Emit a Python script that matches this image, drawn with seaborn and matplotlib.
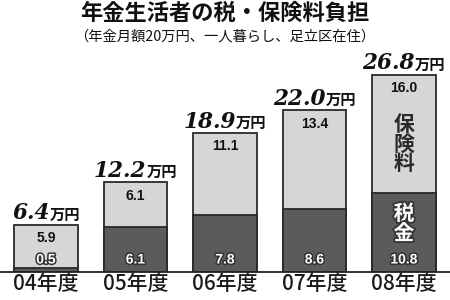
import matplotlib
matplotlib.use("Agg")
import matplotlib.pyplot as plt
import matplotlib.patheffects as pe
import seaborn as sns
import pandas as pd

categories = ["04年度", "05年度", "06年度", "07年度", "08年度"]
tax = [0.5, 6.1, 7.8, 8.6, 10.8]          # 税金
insurance = [5.9, 6.1, 11.1, 13.4, 16.0]  # 保険料
totals = [6.4, 12.2, 18.9, 22.0, 26.8]
title = "年金生活者の税・保険料負担"
subtitle = "（年金月額20万円、一人暮らし、足立区在住）"
unit = "万円"

df = pd.DataFrame({"cat": categories, "tax": tax, "ins": insurance, "total": totals})

sns.set_theme(style="white")
CJK = ["Noto Sans CJK JP", "DejaVu Sans"]
plt.rcParams["font.family"] = CJK

DARK = "#5b5b5b"
LIGHT = "#d6d6d6"
EDGE = "#2a2a2a"

fig = plt.figure(figsize=(4.5, 3.0), dpi=100)
ax = fig.add_axes([0.0, 0.0933, 1.0, 0.735])

sns.barplot(data=df, x="cat", y="total", color=LIGHT, width=0.715,
            edgecolor=EDGE, linewidth=1.3, saturation=1, ax=ax)
sns.barplot(data=df, x="cat", y="tax", color=DARK, width=0.715,
            edgecolor=EDGE, linewidth=1.3, saturation=1, ax=ax)

ax.set_xlim(-0.514, 4.514)
ax.set_ylim(0, 30)
ax.set_xlabel("")
ax.set_ylabel("")
ax.set_yticks([])
for s in ["top", "right", "left"]:
    ax.spines[s].set_visible(False)
ax.spines["bottom"].set_color("#222222")
ax.spines["bottom"].set_linewidth(1.3)
ax.tick_params(axis="x", length=0, pad=1, labelsize=15, colors="#1a1a1a")
for lab in ax.get_xticklabels():
    lab.set_family(CJK)
    lab.set_fontweight("medium")

stroke = [pe.withStroke(linewidth=2.2, foreground="#333333")]
for i in range(len(categories)):
    ax.annotate(f"{insurance[i]:.1f}", xy=(i, totals[i]), xytext=(0, -9.5),
                textcoords="offset points", ha="center", va="center",
                fontsize=10, fontweight="bold", family="Liberation Sans",
                color="#111111")
    ax.annotate(f"{tax[i]:.1f}", xy=(i, 0), xytext=(0, 9),
                textcoords="offset points", ha="center", va="center",
                fontsize=10, fontweight="bold", family="Liberation Sans",
                color="white", path_effects=stroke)

fig.canvas.draw()
r = fig.canvas.get_renderer()
for i in range(len(categories)):
    t1 = ax.annotate(f"{totals[i]:.1f}", xy=(i, totals[i]), xytext=(0, 4),
                     textcoords="offset points", ha="left", va="baseline",
                     fontsize=15.5, fontweight="bold", fontstyle="italic",
                     family="DejaVu Serif", color="#111111")
    t2 = ax.annotate(unit, xy=(i, totals[i]), xytext=(0, 4),
                     textcoords="offset points", ha="left", va="baseline",
                     fontsize=11, fontweight="bold", family=CJK, color="#111111")
    w1 = t1.get_window_extent(r).width
    w2 = t2.get_window_extent(r).width
    w = w1 + w2
    start = -w / 2 * 72 / fig.dpi
    t1.set_position((start, 4))
    t2.set_position((start + w1 * 72 / fig.dpi, 4))

ax.text(4, 17.4, "保\n険\n料", ha="center", va="center", fontsize=15,
        fontweight="bold", family=CJK, color="#2a2a2a", linespacing=0.92)
ax.text(4, 6.6, "税\n金", ha="center", va="center", fontsize=15,
        fontweight="bold", family=CJK, color="white", linespacing=0.92,
        path_effects=[pe.withStroke(linewidth=2.5, foreground="#333333")])

fig.text(0.5, 0.955, title, ha="center", va="center", fontsize=16,
         fontweight="bold", family=CJK, color="#111111")
fig.text(0.5, 0.88, subtitle, ha="center", va="center", fontsize=10.3,
         family=CJK, color="#111111")

fig.savefig("out.png", dpi=100, facecolor="white")
